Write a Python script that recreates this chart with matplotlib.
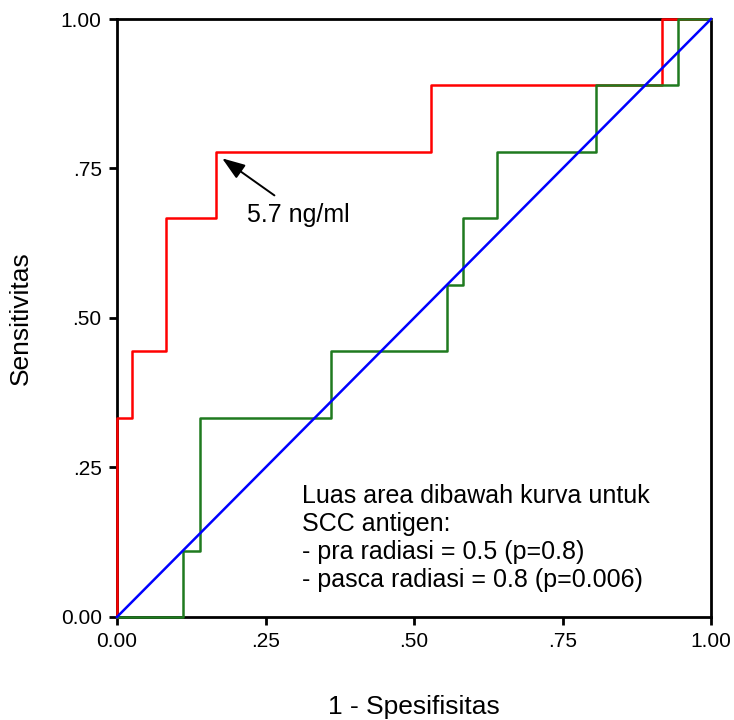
import matplotlib
matplotlib.use('Agg')
import matplotlib.pyplot as plt

plt.rcParams['font.family'] = ['Liberation Sans', 'DejaVu Sans']

# ROC corner points (1 - spesifisitas, sensitivitas)
pasca_fpr = [0, 0, 0.026, 0.083, 0.167, 0.528, 0.917, 1.0]
pasca_tpr = [0, 0.333, 0.444, 0.667, 0.778, 0.889, 1.0, 1.0]

pra_fpr = [0, 0.111, 0.139, 0.361, 0.556, 0.583, 0.639, 0.806, 0.944, 1.0]
pra_tpr = [0, 0.111, 0.333, 0.444, 0.556, 0.667, 0.778, 0.889, 1.0, 1.0]

ref_line = [0, 1]

ticks = [0, 0.25, 0.5, 0.75, 1.0]
tick_labels = ['0.00', '.25', '.50', '.75', '1.00']

fig = plt.figure(figsize=(7.34, 7.2), dpi=100)
ax = fig.add_axes([0.1594, 0.1431, 0.8093, 0.8305])

ax.plot(pasca_fpr, pasca_tpr, drawstyle='steps-post', color='#ff0000', lw=1.8,
        clip_on=False, zorder=3)
ax.plot(pra_fpr, pra_tpr, drawstyle='steps-post', color='#1f7a1f', lw=1.8,
        clip_on=False, zorder=4)
ax.plot(ref_line, ref_line, color='#0000ff', lw=1.8, clip_on=False, zorder=5)

ax.set_xlim(0, 1)
ax.set_ylim(0, 1)
ax.set_xticks(ticks)
ax.set_xticklabels(tick_labels)
ax.set_yticks(ticks)
ax.set_yticklabels(tick_labels)
ax.tick_params(direction='out', length=6, width=2.0, labelsize=15, pad=5,
               top=False, right=False)
for s in ax.spines.values():
    s.set_linewidth(2.0)
    s.set_zorder(2)

ax.set_xlabel('1 - Spesifisitas', fontsize=19)
ax.xaxis.set_label_coords(0.5, -0.131)
ax.set_ylabel('Sensitivitas', fontsize=19)
ax.yaxis.set_label_coords(-0.142, 0.5)

# arrow to the 5.7 ng/ml cut-off
ax.annotate('', xy=(0.177, 0.767), xytext=(0.265, 0.705),
            arrowprops=dict(arrowstyle='-|>,head_length=1.4,head_width=0.5',
                            color='black', lw=1.4, shrinkA=0, shrinkB=0))
ax.text(0.219, 0.672, '5.7 ng/ml', fontsize=18, ha='left', va='center')

ax.text(0.311, 0.222,
        'Luas area dibawah kurva untuk\nSCC antigen:\n'
        '- pra radiasi = 0.5 (p=0.8)\n- pasca radiasi = 0.8 (p=0.006)',
        fontsize=18, ha='left', va='top', linespacing=1.2)

fig.savefig('out.png', dpi=100)
